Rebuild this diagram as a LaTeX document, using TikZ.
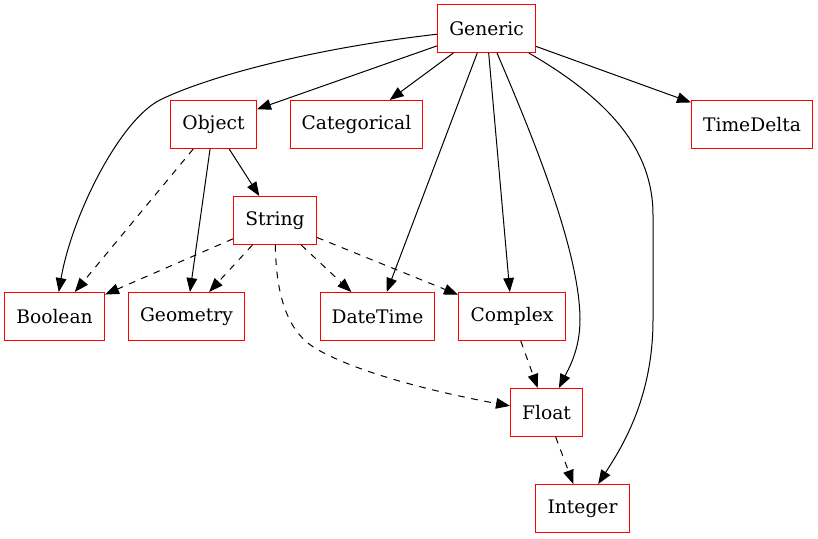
\documentclass[tikz,border=0pt]{standalone}
\usepackage{fontspec}
\setmainfont{DejaVu Serif}
\usetikzlibrary{arrows.meta}

\begin{document}
\begin{tikzpicture}[
        %Environment Cfg.
        x=0.75pt, y=-0.75pt,
        font=\fontsize{14}{16}\selectfont,
        >={Triangle[length=10.5pt,width=8pt]},%from arrows.meta
        line width=0.75pt,
        %Environment Styles.
        tBox/.style={
            rectangle,
            inner sep=0pt,
            minimum height=36pt,
            minimum width={#1*0.75pt},
            draw=red
        },
        isA/.style={->, black},
        castTo/.style={->, black, dash pattern=on 5pt off 5pt},
    ]
    \useasboundingbox (0,0) rectangle (818,539);

    %Type boxes, one row after the other (widths in px).
    \node[tBox=98] (Generic) at (486.5,28.5) {Generic};

    \node[tBox=86] (Object) at (213.5,124.5) {Object};
    \node[tBox=132] (Categorical) at (356.5,124.5) {Categorical};
    \node[tBox=121] (TimeDelta) at (752,124.5) {TimeDelta};

    \node[tBox=83] (String) at (275,220.5) {String};

    \node[tBox=100] (Boolean) at (54.5,316.5) {Boolean};
    \node[tBox=116] (Geometry) at (186.5,316.5) {Geometry};
    \node[tBox=114] (DateTime) at (377.5,316.5) {DateTime};
    \node[tBox=107] (Complex) at (512,316.5) {Complex};

    \node[tBox=72] (Float) at (546.5,412.5) {Float};
    \node[tBox=94] (Integer) at (582.5,508.5) {Integer};

    %Solid edges out of Generic.
    \draw[isA] (Generic) .. controls (300,50) and (200,80) .. (160,100)
        .. controls (120,120) and (72,215) .. (Boolean);
    \draw[isA] (Generic) -- (Object);
    \draw[isA] (Generic) -- (Categorical);
    \draw[isA] (Generic) -- (TimeDelta);
    \draw[isA] (Generic) -- (DateTime);
    \draw[isA] (Generic) -- (Complex);
    \draw[isA] (Generic) .. controls (530,130) and (580,250) .. (580,320)
        .. controls (580,350) and (568,370) .. (Float);
    \draw[isA] (Generic) .. controls (610,100) and (653,150) .. (653,215)
        -- (653,320) .. controls (653,400) and (620,450) .. (Integer);

    %Edges out of Object.
    \draw[isA] (Object) -- (String);
    \draw[isA] (Object) -- (Geometry);
    \draw[castTo] (Object) -- (Boolean);

    %Dashed edges out of String.
    \draw[castTo] (String) -- (Boolean);
    \draw[castTo] (String) -- (Geometry);
    \draw[castTo] (String) -- (DateTime);
    \draw[castTo] (String) -- (Complex);
    \draw[castTo] (String) .. controls (276,290) and (285,330) .. (315,348)
        .. controls (360,375) and (450,395) .. (Float);

    %Numeric chain.
    \draw[castTo] (Complex) -- (Float);
    \draw[castTo] (Float) -- (Integer);

\end{tikzpicture}
\end{document}
